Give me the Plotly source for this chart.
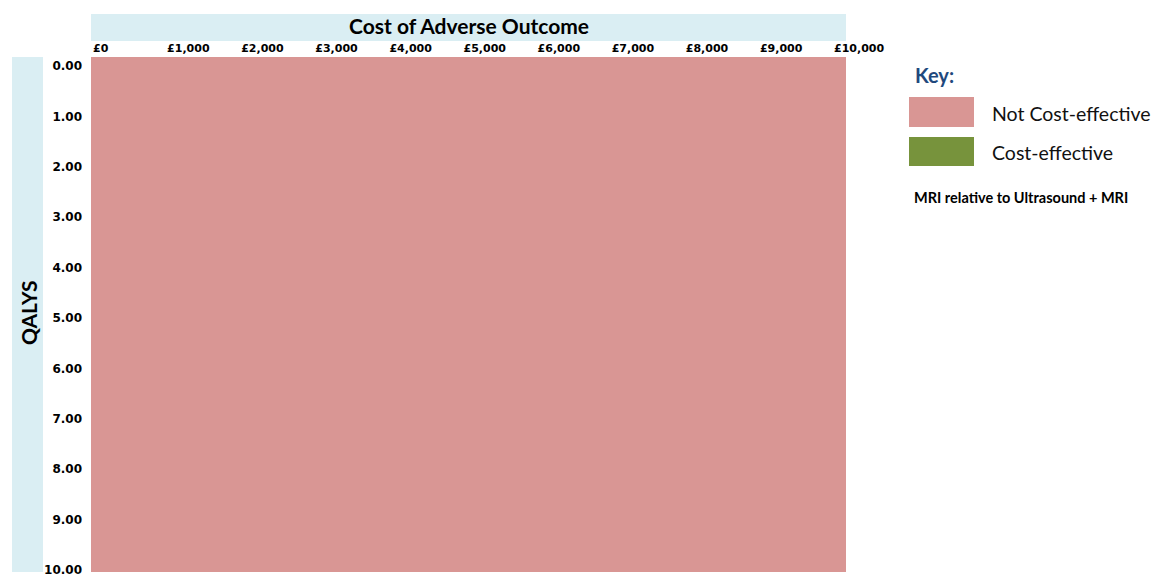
import plotly.graph_objects as go

# cost of adverse outcome (columns) and QALYs (rows)
costs = [0, 1000, 2000, 3000, 4000, 5000, 6000, 7000, 8000, 9000, 10000]
cost_labels = ['£0', '£1,000', '£2,000', '£3,000', '£4,000', '£5,000',
               '£6,000', '£7,000', '£8,000', '£9,000', '£10,000']
qalys = [0, 1, 2, 3, 4, 5, 6, 7, 8, 9, 10]
qaly_labels = ['0.00', '1.00', '2.00', '3.00', '4.00', '5.00',
               '6.00', '7.00', '8.00', '9.00', '10.00']

# 1 = cost-effective, 0 = not cost-effective (every cell is not cost-effective)
cost_effective = [
    [0, 0, 0, 0, 0, 0, 0, 0, 0, 0, 0],
    [0, 0, 0, 0, 0, 0, 0, 0, 0, 0, 0],
    [0, 0, 0, 0, 0, 0, 0, 0, 0, 0, 0],
    [0, 0, 0, 0, 0, 0, 0, 0, 0, 0, 0],
    [0, 0, 0, 0, 0, 0, 0, 0, 0, 0, 0],
    [0, 0, 0, 0, 0, 0, 0, 0, 0, 0, 0],
    [0, 0, 0, 0, 0, 0, 0, 0, 0, 0, 0],
    [0, 0, 0, 0, 0, 0, 0, 0, 0, 0, 0],
    [0, 0, 0, 0, 0, 0, 0, 0, 0, 0, 0],
    [0, 0, 0, 0, 0, 0, 0, 0, 0, 0, 0],
    [0, 0, 0, 0, 0, 0, 0, 0, 0, 0, 0],
]

PINK = '#D99694'
GREEN = '#77933C'
BAND = '#DAEEF3'

# page body has an 8px margin, so the figure is drawn from (8, 8)
OFF = 8
W, H = 1163 - OFF, 574
L, R, T, B = 91 - OFF, 846 - OFF, 57 - OFF, 572 - OFF


def px_x(p):
    # screen pixel -> paper x
    return (p - OFF - L) / (R - L)


def px_y(p):
    # screen pixel -> paper y
    return (B - (p - OFF)) / (B - T)


fig = go.Figure()
fig.add_trace(go.Heatmap(
    x=costs,
    y=qalys,
    z=cost_effective,
    zmin=0,
    zmax=1,
    colorscale=[[0, PINK], [0.5, PINK], [0.5, GREEN], [1, GREEN]],
    showscale=False,
    hoverinfo='skip',
))

shapes = [
    # title band
    dict(type='rect', xref='paper', yref='paper', x0=0, x1=1,
         y0=px_y(41), y1=px_y(14), fillcolor=BAND, line_width=0, layer='below'),
    # y-axis band
    dict(type='rect', xref='paper', yref='paper', x0=px_x(12), x1=px_x(43),
         y0=0, y1=1, fillcolor=BAND, line_width=0, layer='below'),
    # key boxes
    dict(type='rect', xref='paper', yref='paper', x0=px_x(909), x1=px_x(974),
         y0=px_y(127), y1=px_y(97), fillcolor=PINK, line_width=0),
    dict(type='rect', xref='paper', yref='paper', x0=px_x(909), x1=px_x(974),
         y0=px_y(166), y1=px_y(137), fillcolor=GREEN, line_width=0),
]

annotations = [
    dict(text='<b>Cost of Adverse Outcome</b>', x=px_x(469), y=px_y(26),
         xanchor='center', font=dict(family='Lato', size=21, color='black')),
    dict(text='<b>QALYS</b>', x=px_x(28), y=px_y(313), xanchor='center',
         textangle=-90, font=dict(family='Lato', size=21, color='black')),
    dict(text='<b>Key:</b>', x=px_x(913), y=px_y(75), xanchor='left',
         font=dict(family='Lato', size=20, color='#1F497D')),
    dict(text='Not Cost-effective', x=px_x(990), y=px_y(113), xanchor='left',
         font=dict(family='Lato', size=19.5, color='#111111')),
    dict(text='Cost-effective', x=px_x(990), y=px_y(152), xanchor='left',
         font=dict(family='Lato', size=19.5, color='#111111')),
    dict(text='<b>MRI relative to Ultrasound + MRI</b>', x=px_x(912), y=px_y(197),
         xanchor='left', font=dict(family='Lato', size=14.5, color='black')),
]
for a in annotations:
    a.update(xref='paper', yref='paper', yanchor='middle', showarrow=False)

fig.update_layout(
    width=W,
    height=H,
    margin=dict(l=L, r=W - R, t=T, b=H - B, pad=0),
    paper_bgcolor='white',
    plot_bgcolor='white',
    shapes=shapes,
    annotations=annotations,
    xaxis=dict(
        side='top',
        range=[-27, 10162],
        tickvals=costs,
        ticktext=cost_labels,
        ticklabelposition='outside right',
        ticklabeloverflow='allow',
        automargin=False,
        ticks='',
        ticklabelstandoff=2,
        showgrid=False,
        zeroline=False,
        tickfont=dict(family='DejaVu Sans', size=11, color='black', weight='bold'),
    ),
    yaxis=dict(
        range=[10.04, -0.18],
        tickvals=qalys,
        ticktext=qaly_labels,
        ticklabeloverflow='allow',
        automargin=False,
        ticks='',
        ticklabelstandoff=8,
        showgrid=False,
        zeroline=False,
        tickfont=dict(family='DejaVu Sans', size=12, color='black', weight='bold'),
    ),
)

fig.write_html("out.html")
